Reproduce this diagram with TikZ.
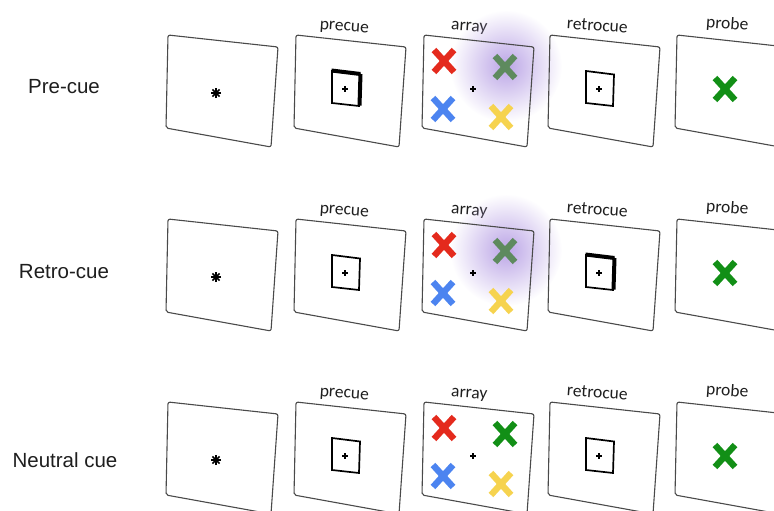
\documentclass[tikz,border=0pt]{standalone}
\usepackage{fontspec}
\setmainfont{Carlito}
\newfontfamily\rowfont{Liberation Sans}
\usetikzlibrary{fadings}

\definecolor{edgegray}{HTML}{4A4A4A}
\definecolor{xred}{HTML}{E42A1D}
\definecolor{xblue}{HTML}{4C84F0}
\definecolor{xyellow}{HTML}{F6D34F}
\definecolor{xdimgreen}{HTML}{5E8A5E}
\definecolor{xgreen}{HTML}{128F16}
\definecolor{glowviolet}{HTML}{BBA5E6}
\definecolor{inkgray}{HTML}{1E1E1E}

\tikzfading[name=glowfade, inner color=transparent!0, outer color=transparent!100]

\tikzset{
  screenedge/.style={draw=edgegray, line width=1.1pt, rounded corners=2pt, line join=round},
  screentext/.style={font=\fontsize{17.5}{20}\selectfont, text=inkgray, anchor=base, rotate=-4, inner sep=0pt},
  rowtext/.style={font=\rowfont\fontsize{20.5}{24}\selectfont, text=inkgray, anchor=base, inner sep=0pt},
  xstroke/.style={line width=6.4pt},
  boxline/.style={line width=1.7pt, line join=miter},
  smallplus/.style={line width=1.4pt},
}

% screen outline, local coordinates (top-left corner at origin)
\newcommand\panelframe{\draw[screenedge] (0,0) -- (110,12) -- (103,112) -- (-2,93) -- cycle;}
% fixation asterisk
\newcommand\fixstar{%
  \begin{scope}[shift={(48,58)}]
    \foreach \a in {0,45,90,135}{\draw[line width=1.7pt] (\a:5) -- (\a+180:5);}
    \fill (0,0) circle (2.4);
  \end{scope}}
% small central plus
\newcommand\centreplus[2]{\draw[smallplus] (#1-3,#2) -- (#1+3,#2) (#1,#2-3) -- (#1,#2+3);}
% cue frame round the fixation; #1 = 1 for the bold (informative) cue
\newcommand\cuebox[1]{%
  \draw[boxline] (36,36) -- (64,39.5) -- (63,71) -- (36,68) -- cycle;
  \ifnum#1=1
    \draw[line width=4pt, line cap=square] (35.5,35.5) -- (64.5,39);
    \draw[line width=4pt, line cap=square] (64.5,39) -- (63.5,70.5);
    \draw[line width=2.4pt] (36,36) -- (36,68);
  \fi
  \centreplus{49}{54}}
% coloured cross, #1 = centre, #2 = colour
\newcommand\crossmark[2]{\draw[xstroke,#2,shift={#1}] (-10,-11) -- (10,11) (-10,11) -- (10,-11);}
% four-item memory array; #1 = colour of the upper right item, #2 = 1 for a glow behind it
\newcommand\memarray[2]{%
  \ifnum#2=1
    \fill[glowviolet, path fading=glowfade] (82,31) circle (56);
  \fi
  \crossmark{(20,26)}{xred}
  \crossmark{(81,32)}{#1}
  \crossmark{(19,74)}{xblue}
  \crossmark{(77,82)}{xyellow}
  \centreplus{49}{54}}

\begin{document}
\begin{tikzpicture}[x=1pt,y=-1pt]
\useasboundingbox (0,0) rectangle (774,511);
\clip (0,0) rectangle (774,511);

% ---- condition labels
\node[rowtext] (cond-pre) at (64,93) {Pre-cue};
\node[rowtext] (cond-retro) at (64,278) {Retro-cue};
\node[rowtext] (cond-neutral) at (65,467) {Neutral cue};

% ---- one trial sequence per row: #1 row prefix, #2 top y, #3 precue bold, #4 retrocue bold, #5 target colour, #6 glow
\newcommand\trialrow[6]{%
  \begin{scope}[shift={(168,#2)}]
    \panelframe \fixstar
  \end{scope}
  \begin{scope}[shift={(296,#2)}]
    \node[screentext] (#1-precue) at (48,-4) {precue};
    \cuebox{#3} \panelframe
  \end{scope}
  \begin{scope}[shift={(424,#2)}]
    \node[screentext] (#1-array) at (45,-4) {array};
    \memarray{#5}{#6} \panelframe
  \end{scope}
  \begin{scope}[shift={(550,#2)}]
    \node[screentext] (#1-retrocue) at (47,-4) {retrocue};
    \cuebox{#4} \panelframe
  \end{scope}
  \begin{scope}[shift={(677,#2)}]
    \node[screentext] (#1-probe) at (50,-6) {probe};
    \crossmark{(48,54)}{xgreen} \panelframe
  \end{scope}}

\trialrow{pre}{35}{1}{0}{xdimgreen}{1}
\trialrow{retro}{219}{0}{1}{xdimgreen}{1}
\trialrow{neutral}{402}{0}{0}{xgreen}{0}
\end{tikzpicture}
\end{document}
